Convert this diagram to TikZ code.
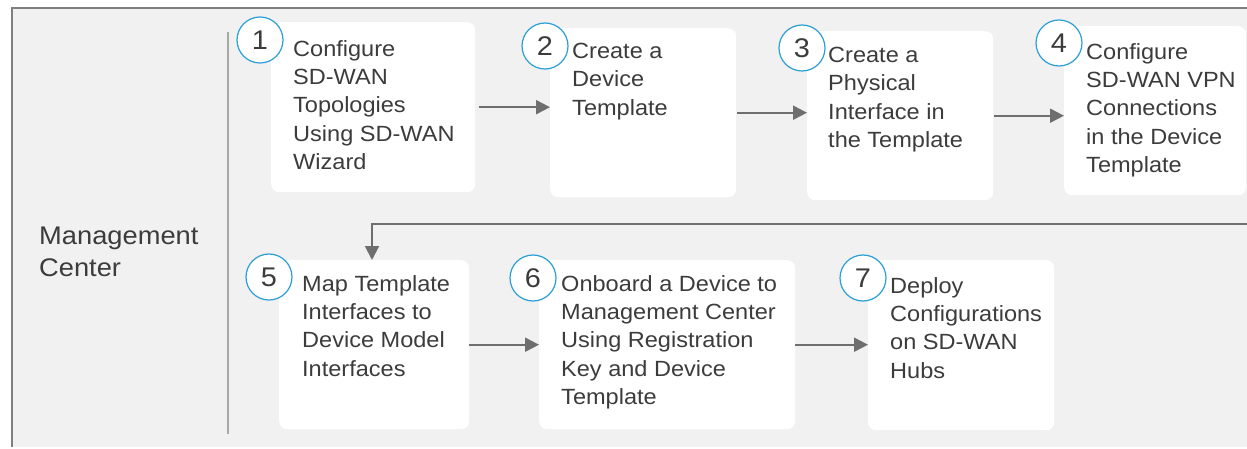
\documentclass[tikz,border=0pt]{standalone}
\usepackage{fontspec}
\setmainfont[FakeStretch=1.07]{Liberation Sans}
\usetikzlibrary{arrows.meta}
\definecolor{panelgray}{HTML}{F1F1F1}
\definecolor{edgegray}{HTML}{7F7F7F}
\definecolor{sepgray}{HTML}{A8A8A8}
\definecolor{arrowgray}{HTML}{6E6E6E}
\definecolor{inkgray}{HTML}{3C3C3C}
\definecolor{stepblue}{HTML}{2A9FD6}
\tikzset{
  stepbox/.style={draw=none, fill=white, rounded corners=8pt, inner sep=0pt, anchor=north west},
  stepnum/.style={circle, draw=stepblue, line width=1.2pt, fill=white, minimum size=46pt,
    inner sep=0pt, text=inkgray, font=\fontsize{27}{27}\selectfont},
  steptext/.style={anchor=north west, inner sep=0pt, align=left, text=inkgray,
    font=\fontsize{22}{28.3}\selectfont},
  flow/.style={draw=arrowgray, line width=2pt, -{Triangle[length=14pt,width=14pt]}},
}
\begin{document}
\begin{tikzpicture}[x=1pt, y=-1pt]
\useasboundingbox (0,0) rectangle (1247,449);
\clip (0,0) rectangle (1247,449);

% lane background and frame
\fill[panelgray] (12,8) rectangle (1247,447);
\draw[edgegray, line width=1.5pt] (12,447) -- (12,8) -- (1247,8);
\draw[sepgray, line width=1.5pt] (228,32) -- (228,434);

\node[anchor=north west, inner sep=0pt, align=left, text=inkgray,
  font=\fontsize{25.5}{31.5}\selectfont] (lane) at (39,227) {Management\\Center};

% step boxes
\node[stepbox, minimum width=204pt, minimum height=170pt] (b1) at (271,22) {};
\node[stepbox, minimum width=186pt, minimum height=169pt] (b2) at (550,28) {};
\node[stepbox, minimum width=186pt, minimum height=169pt] (b3) at (807,31) {};
\node[stepbox, minimum width=182pt, minimum height=169pt] (b4) at (1064,26) {};
\node[stepbox, minimum width=190pt, minimum height=169pt] (b5) at (279,260) {};
\node[stepbox, minimum width=256pt, minimum height=169pt] (b6) at (539,260) {};
\node[stepbox, minimum width=186pt, minimum height=170pt] (b7) at (868,260) {};

% step texts
\node[steptext] (t1) at (293,40) {Configure\\SD-WAN\\Topologies\\Using SD-WAN\\Wizard};
\node[steptext] (t2) at (572,43) {Create a\\Device\\Template};
\node[steptext] (t3) at (828,47) {Create a\\Physical\\Interface in\\the Template};
\node[steptext] (t4) at (1086,43) {Configure\\SD-WAN VPN\\Connections\\in the Device\\Template};
\node[steptext] (t5) at (302,275) {Map Template\\Interfaces to\\Device Model\\Interfaces};
\node[steptext] (t6) at (561,275) {Onboard a Device to\\Management Center\\Using Registration\\Key and Device\\Template};
\node[steptext] (t7) at (890,277) {Deploy\\Configurations\\on SD-WAN\\Hubs};

% step numbers
\node[stepnum] (c1) at (260,40) {1};
\node[stepnum] (c2) at (545,46) {2};
\node[stepnum] (c3) at (802,48) {3};
\node[stepnum] (c4) at (1059,43) {4};
\node[stepnum] (c5) at (269,277) {5};
\node[stepnum] (c6) at (533,278) {6};
\node[stepnum] (c7) at (863,278) {7};

% connectors
\draw[flow] ([xshift=4pt]b1.east) -- (b1.east -| b2.west);
\draw[flow] ([xshift=1pt]b2.east) -- (b2.east -| b3.west);
\draw[flow] ([xshift=1pt]b3.east) -- (b3.east -| b4.west);
\coordinate (wrap) at (1250,224);
\draw[flow] (wrap) -| (b5.north -| 372,0);
\draw[flow] (b5.east) -- (b5.east -| b6.west);
\draw[flow] (b6.east) -- (b6.east -| b7.west);
\end{tikzpicture}
\end{document}
